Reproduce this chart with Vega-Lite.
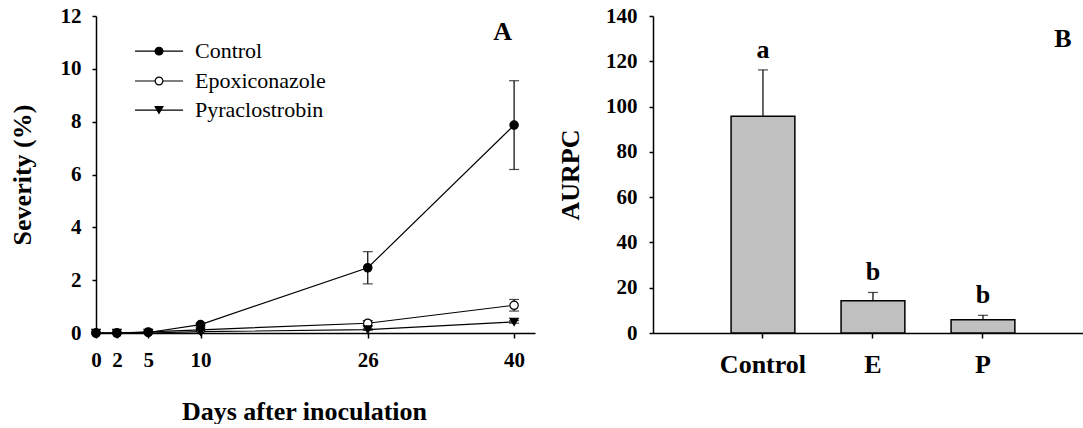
{
  "$schema": "https://vega.github.io/schema/vega-lite/v6.json",
  "background": "white",
  "padding": {"left": 9, "top": 5, "right": 0, "bottom": 0},
  "spacing": 22,
  "bounds": "full",
  "align": "none",
  "config": {
    "view": {"stroke": null},
    "font": "Liberation Serif",
    "text": {"font": "Liberation Serif"},
    "axis": {
      "grid": false,
      "domainColor": "black",
      "domainWidth": 1.5,
      "tickColor": "black",
      "tickWidth": 1.5,
      "labelFont": "Liberation Serif",
      "labelFontWeight": "bold",
      "labelFontSize": 21,
      "labelColor": "black",
      "titleFont": "Liberation Serif",
      "titleFontWeight": "bold",
      "titleFontSize": 26,
      "titleColor": "black"
    }
  },
  "datasets": {
    "severity": [
      {"treatment": "Epoxiconazole", "day": 0, "severity": 0, "err": 0},
      {"treatment": "Epoxiconazole", "day": 2, "severity": 0, "err": 0},
      {"treatment": "Epoxiconazole", "day": 5, "severity": 0.04, "err": 0},
      {"treatment": "Epoxiconazole", "day": 10, "severity": 0.12, "err": 0},
      {"treatment": "Epoxiconazole", "day": 26, "severity": 0.37, "err": 0.1},
      {"treatment": "Epoxiconazole", "day": 40, "severity": 1.05, "err": 0.22},
      {"treatment": "Pyraclostrobin", "day": 0, "severity": 0, "err": 0},
      {"treatment": "Pyraclostrobin", "day": 2, "severity": 0, "err": 0},
      {"treatment": "Pyraclostrobin", "day": 5, "severity": 0, "err": 0},
      {"treatment": "Pyraclostrobin", "day": 10, "severity": 0.05, "err": 0},
      {"treatment": "Pyraclostrobin", "day": 26, "severity": 0.13, "err": 0.03},
      {"treatment": "Pyraclostrobin", "day": 40, "severity": 0.42, "err": 0.05},
      {"treatment": "Control", "day": 0, "severity": 0, "err": 0},
      {"treatment": "Control", "day": 2, "severity": 0, "err": 0},
      {"treatment": "Control", "day": 5, "severity": 0.02, "err": 0},
      {"treatment": "Control", "day": 10, "severity": 0.32, "err": 0.05},
      {"treatment": "Control", "day": 26, "severity": 2.47, "err": 0.61},
      {"treatment": "Control", "day": 40, "severity": 7.87, "err": 1.68}
    ],
    "aurpc": [
      {"treatment": "Control", "aurpc": 95.7, "upper": 116.2, "letter": "a"},
      {"treatment": "E", "aurpc": 14.2, "upper": 17.9, "letter": "b"},
      {"treatment": "P", "aurpc": 5.8, "upper": 7.8, "letter": "b"}
    ],
    "one": [{}]
  },
  "hconcat": [
    {
      "width": 439,
      "height": 317,
      "data": {"name": "severity"},
      "layer": [
        {
          "mark": {"type": "line", "color": "black", "strokeWidth": 1.2},
          "encoding": {
            "x": {
              "field": "day", "type": "quantitative",
              "scale": {"domain": [0, 42], "nice": false},
              "axis": {
                "values": [0, 2, 5, 10, 26, 40],
                "title": "Days after inoculation",
                "titleX": 208, "titleY": 86, "titleBaseline": "alphabetic",
                "labelPadding": 11, "tickSize": 5,
                "labelFlush": false, "labelOverlap": false
              }
            },
            "y": {
              "field": "severity", "type": "quantitative", "title": "Severity (%)",
              "scale": {"domain": [0, 12], "nice": false},
              "axis": {
                "values": [0, 2, 4, 6, 8, 10, 12],
                "title": "Severity (%)",
                "titleX": -66, "titleBaseline": "alphabetic",
                "labelPadding": 11, "tickSize": 4
              }
            },
            "detail": {"field": "treatment"}
          }
        },
        {
          "transform": [{"filter": "datum.err > 0"}],
          "mark": {"type": "errorbar", "color": "black", "thickness": 1.2,
                   "ticks": {"size": 10, "thickness": 1.2, "color": "black"}},
          "encoding": {
            "x": {"field": "day", "type": "quantitative"},
            "y": {"field": "severity", "type": "quantitative", "title": "Severity (%)"},
            "yError": {"field": "err"}
          }
        },
        {
          "mark": {"type": "point", "filled": true, "size": 70, "stroke": "black", "strokeWidth": 1.2, "opacity": 1},
          "encoding": {
            "x": {"field": "day", "type": "quantitative"},
            "y": {"field": "severity", "type": "quantitative", "title": "Severity (%)"},
            "shape": {
              "field": "treatment", "type": "nominal",
              "scale": {"domain": ["Control", "Epoxiconazole", "Pyraclostrobin"], "range": ["circle", "circle", "triangle-down"]},
              "legend": null
            },
            "fill": {
              "field": "treatment", "type": "nominal",
              "scale": {"domain": ["Control", "Epoxiconazole", "Pyraclostrobin"], "range": ["black", "white", "black"]},
              "legend": null
            }
          }
        },
        {
          "data": {"name": "one"},
          "mark": {"type": "rule", "color": "black", "strokeWidth": 1.2},
          "encoding": {"x": {"datum": 3.73, "type": "quantitative"}, "x2": {"datum": 8.33}, "y": {"datum": 10.67, "type": "quantitative"}}
        },
        {
          "data": {"name": "one"},
          "mark": {"type": "rule", "color": "black", "strokeWidth": 1.2},
          "encoding": {"x": {"datum": 3.73, "type": "quantitative"}, "x2": {"datum": 8.33}, "y": {"datum": 9.54, "type": "quantitative"}}
        },
        {
          "data": {"name": "one"},
          "mark": {"type": "rule", "color": "black", "strokeWidth": 1.2},
          "encoding": {"x": {"datum": 3.73, "type": "quantitative"}, "x2": {"datum": 8.33}, "y": {"datum": 8.44, "type": "quantitative"}}
        },
        {
          "data": {"name": "one"},
          "mark": {"type": "point", "shape": "circle", "filled": true, "fill": "black", "size": 60, "stroke": "black", "strokeWidth": 1.2, "opacity": 1},
          "encoding": {"x": {"datum": 6.03, "type": "quantitative"}, "y": {"datum": 10.67, "type": "quantitative"}}
        },
        {
          "data": {"name": "one"},
          "mark": {"type": "point", "shape": "circle", "filled": true, "fill": "white", "size": 60, "stroke": "black", "strokeWidth": 1.2, "opacity": 1},
          "encoding": {"x": {"datum": 6.03, "type": "quantitative"}, "y": {"datum": 9.54, "type": "quantitative"}}
        },
        {
          "data": {"name": "one"},
          "mark": {"type": "point", "shape": "triangle-down", "filled": true, "fill": "black", "size": 60, "stroke": "black", "strokeWidth": 1.2, "opacity": 1},
          "encoding": {"x": {"datum": 6.03, "type": "quantitative"}, "y": {"datum": 8.44, "type": "quantitative"}}
        },
        {
          "data": {"name": "one"},
          "mark": {"type": "text", "text": "Control", "font": "Liberation Serif, Times New Roman, DejaVu Serif, serif", "fontWeight": "normal", "fontSize": 22, "align": "left", "baseline": "middle", "color": "black"},
          "encoding": {"x": {"datum": 9.47, "type": "quantitative"}, "y": {"datum": 10.67, "type": "quantitative"}}
        },
        {
          "data": {"name": "one"},
          "mark": {"type": "text", "text": "Epoxiconazole", "font": "Liberation Serif, Times New Roman, DejaVu Serif, serif", "fontWeight": "normal", "fontSize": 22, "align": "left", "baseline": "middle", "color": "black"},
          "encoding": {"x": {"datum": 9.47, "type": "quantitative"}, "y": {"datum": 9.54, "type": "quantitative"}}
        },
        {
          "data": {"name": "one"},
          "mark": {"type": "text", "text": "Pyraclostrobin", "font": "Liberation Serif, Times New Roman, DejaVu Serif, serif", "fontWeight": "normal", "fontSize": 22, "align": "left", "baseline": "middle", "color": "black"},
          "encoding": {"x": {"datum": 9.47, "type": "quantitative"}, "y": {"datum": 8.44, "type": "quantitative"}}
        },
        {
          "data": {"name": "one"},
          "mark": {"type": "text", "text": "A", "font": "Liberation Serif", "fontSize": 26, "fontWeight": "bold", "baseline": "middle", "align": "center", "color": "black"},
          "encoding": {
            "x": {"datum": 38.9, "type": "quantitative"},
            "y": {"datum": 11.4, "type": "quantitative"}
          }
        }
      ]
    },
    {
      "width": 430,
      "height": 317,
      "data": {"name": "aurpc"},
      "encoding": {
        "x": {
          "field": "treatment", "type": "nominal", "sort": null,
          "scale": {"domain": ["Control", "E", "P"], "paddingInner": 0.42, "paddingOuter": 0.6645, "align": 0.534},
          "axis": {"title": null, "labelAngle": 0, "labelFontSize": 26, "labelPadding": 13, "tickSize": 5}
        }
      },
      "layer": [
        {
          "mark": {"type": "rule", "color": "black", "strokeWidth": 1.2},
          "encoding": {
            "y": {
              "field": "aurpc", "type": "quantitative", "title": "AURPC",
              "scale": {"domain": [0, 140], "nice": false},
              "axis": {
                "values": [0, 20, 40, 60, 80, 100, 120, 140],
                "title": "AURPC",
                "titleX": -75, "titleBaseline": "alphabetic",
                "labelPadding": 12, "tickSize": 4
              }
            },
            "y2": {"field": "upper"}
          }
        },
        {
          "mark": {"type": "tick", "orient": "horizontal", "color": "black", "size": 10, "thickness": 1.2},
          "encoding": {"y": {"field": "upper", "type": "quantitative", "title": "AURPC"}}
        },
        {
          "mark": {"type": "bar", "fill": "#c0c0c0", "stroke": "black", "strokeWidth": 1.5},
          "encoding": {"y": {"field": "aurpc", "type": "quantitative", "title": "AURPC"}}
        },
        {
          "mark": {"type": "text", "font": "Liberation Serif", "fontSize": 26, "fontWeight": "bold", "baseline": "alphabetic", "dy": -12, "color": "black"},
          "encoding": {
            "y": {"field": "upper", "type": "quantitative", "title": "AURPC"},
            "text": {"field": "letter"}
          }
        },
        {
          "data": {"name": "one"},
          "mark": {"type": "text", "text": "B", "font": "Liberation Serif", "fontSize": 26, "fontWeight": "bold", "baseline": "middle", "align": "center", "dx": 80, "color": "black"},
          "encoding": {
            "x": {"datum": "P"},
            "y": {"datum": 130, "type": "quantitative"}
          }
        }
      ]
    }
  ]
}
